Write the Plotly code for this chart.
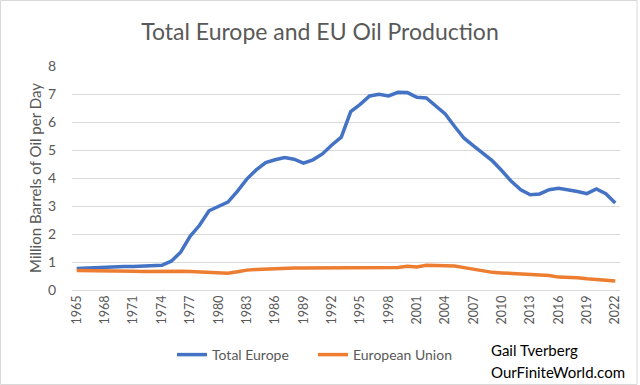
import plotly.graph_objects as go

years = list(range(1965, 2023))

total_europe = [0.77, 0.79, 0.80, 0.82, 0.83, 0.84, 0.84, 0.85, 0.86, 0.88,
                1.03, 1.35, 1.92, 2.31, 2.83, 2.99, 3.14, 3.52, 3.96, 4.29,
                4.55, 4.65, 4.73, 4.67, 4.53, 4.65, 4.86, 5.18, 5.46, 6.37,
                6.63, 6.93, 6.99, 6.93, 7.06, 7.05, 6.88, 6.86, 6.57, 6.29,
                5.84, 5.42, 5.15, 4.89, 4.61, 4.26, 3.88, 3.58, 3.40, 3.43,
                3.58, 3.63, 3.58, 3.52, 3.44, 3.61, 3.44, 3.11]

european_union = [0.70, 0.70, 0.70, 0.70, 0.69, 0.69, 0.67, 0.66, 0.67, 0.68,
                  0.68, 0.67, 0.66, 0.65, 0.63, 0.61, 0.60, 0.65, 0.71, 0.73,
                  0.75, 0.76, 0.78, 0.79, 0.79, 0.79, 0.78, 0.77, 0.77, 0.79,
                  0.78, 0.77, 0.77, 0.77, 0.80, 0.85, 0.82, 0.88, 0.88, 0.88,
                  0.86, 0.80, 0.74, 0.68, 0.63, 0.61, 0.59, 0.56, 0.55, 0.55,
                  0.52, 0.46, 0.46, 0.44, 0.40, 0.38, 0.36, 0.32]

tick_years = list(range(1965, 2023, 3))

FONT = "Lato"
GRAY = "#595959"

fig = go.Figure()
fig.add_trace(go.Scatter(x=years, y=total_europe, mode="lines", name="Total Europe",
                         line=dict(color="#4472C4", width=3.5)))
fig.add_trace(go.Scatter(x=years, y=european_union, mode="lines", name="European Union",
                         line=dict(color="#ED7D31", width=3.5)))

L, R, T, B = 72, 20, 66, 95
W, H = 640, 385
pw, ph = W - L - R, H - T - B

def px_x(p):
    return (p - L) / pw

def px_y(p):
    return (H - B - p) / ph

fig.update_layout(
    width=W, height=H,
    margin=dict(l=L, r=R, t=T, b=B, autoexpand=False),
    paper_bgcolor="white", plot_bgcolor="white",
    font=dict(family=FONT, color=GRAY),
    title=dict(text="Total Europe and EU Oil Production", x=0.5, xref="container",
               xanchor="center", y=1 - 32 / H, yanchor="middle",
               font=dict(size=23, color=GRAY, family=FONT)),
    xaxis=dict(range=[1964.5, 2022.5], tickmode="array", tickvals=tick_years,
               ticktext=[str(y) for y in tick_years], tickangle=-90, automargin=False,
               showgrid=False, zeroline=False, showline=False,
               tickfont=dict(size=12.5, color=GRAY), ticks="", ticklabelstandoff=2),
    yaxis=dict(range=[0, 8], dtick=1, showgrid=True, gridcolor="#d9d9d9", gridwidth=1,
               zeroline=True, zerolinecolor="#d9d9d9", zerolinewidth=1, automargin=False,
               tickfont=dict(size=14, color=GRAY), ticks="", ticklabelstandoff=15,
               title=dict(text="Million Barrels of Oil per Day", standoff=2,
                          font=dict(size=15, color=GRAY))),
    legend=dict(orientation="h", x=px_x(172), y=px_y(355), yanchor="middle",
                xanchor="left", font=dict(size=14, color=GRAY),
                bgcolor="rgba(0,0,0,0)", entrywidth=96, entrywidthmode="pixels"),
    showlegend=True,
)

for txt, yy in [("Gail Tverberg", 350), ("OurFiniteWorld.com", 372)]:
    fig.add_annotation(text=txt, xref="paper", yref="paper",
                       x=px_x(489), y=px_y(yy), xanchor="left", yanchor="middle",
                       align="left", showarrow=False,
                       font=dict(size=15, color="black", family=FONT))

fig.add_shape(type="rect", xref="paper", yref="paper",
              x0=px_x(0.5), x1=px_x(637), y0=px_y(384.5), y1=px_y(0.5),
              line=dict(color="#d9d9d9", width=1), fillcolor="rgba(0,0,0,0)", layer="below")

fig.write_html("out.html", config={"displayModeBar": False},
               post_script="document.body.style.margin='0px';document.body.style.overflow='hidden';")
